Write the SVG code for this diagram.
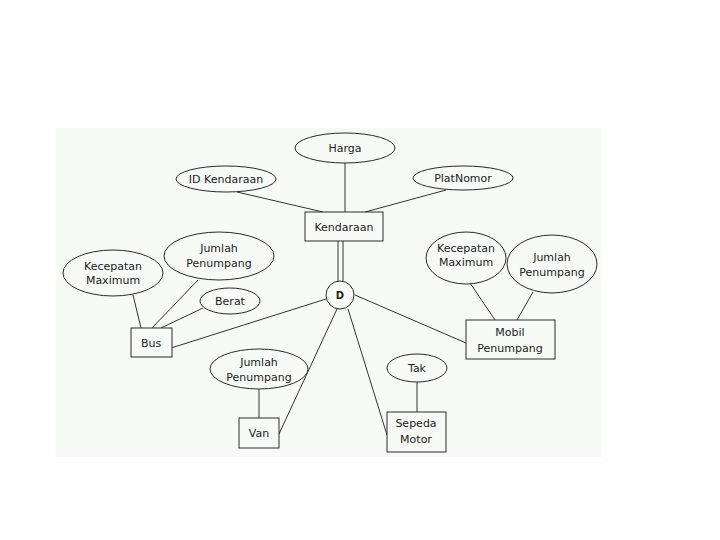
<svg xmlns="http://www.w3.org/2000/svg" width="720" height="540" viewBox="0 0 720 540">
<style>
.n{fill:none;stroke:#2a2a2a;stroke-width:1}
.s{fill:#f8faf8;stroke:#2a2a2a;stroke-width:1}
.c line{stroke:#333;stroke-width:1}
text{font-family:"DejaVu Sans","Liberation Sans",sans-serif;font-size:11px;fill:#222;text-anchor:middle}
</style>
<rect x="0" y="0" width="720" height="540" fill="#ffffff"/>
<rect x="56" y="128" width="546" height="329" fill="#f8faf8"/>
<g id="connectors" class="c">
<line x1="345" y1="163" x2="345" y2="212"/>
<line x1="237" y1="192" x2="323" y2="212"/>
<line x1="446" y1="190" x2="365" y2="212"/>
<line x1="338" y1="241" x2="338" y2="282"/>
<line x1="343" y1="241" x2="343" y2="281"/>
<line x1="133" y1="295" x2="141" y2="328"/>
<line x1="198" y1="280" x2="152" y2="328"/>
<line x1="203" y1="308" x2="161" y2="328"/>
<line x1="171" y1="348" x2="326" y2="299"/>
<line x1="259" y1="389" x2="259" y2="418"/>
<line x1="279" y1="434" x2="337" y2="309"/>
<line x1="417" y1="382" x2="417" y2="412"/>
<line x1="348" y1="309" x2="387" y2="435"/>
<line x1="355" y1="295" x2="466" y2="343"/>
<line x1="470" y1="283" x2="495" y2="320"/>
<line x1="533" y1="292" x2="517" y2="320"/>
</g>
<g id="harga"><ellipse class="s" cx="345" cy="148" rx="50" ry="15"/><text x="345" y="152">Harga</text></g>
<g id="idkendaraan"><ellipse class="s" cx="226" cy="179" rx="50" ry="13"/><text x="226" y="183">ID Kendaraan</text></g>
<g id="platnomor"><ellipse class="s" cx="463" cy="178" rx="50" ry="12"/><text x="463" y="182">PlatNomor</text></g>
<g id="kendaraan"><rect class="s" x="305" y="212" width="78" height="29"/><text x="344" y="231">Kendaraan</text></g>
<g id="d"><circle class="s" cx="340" cy="295" r="14"/><text x="340" y="299" style="font-weight:bold;font-size:10px">D</text></g>
<g id="bus-kecepatan"><ellipse class="s" cx="113" cy="273" rx="50" ry="23"/><text x="113" y="270">Kecepatan</text><text x="113" y="284">Maximum</text></g>
<g id="bus-jumlah"><ellipse class="s" cx="219" cy="256" rx="55" ry="24"/><text x="219" y="252">Jumlah</text><text x="219" y="267">Penumpang</text></g>
<g id="berat"><ellipse class="s" cx="230" cy="301" rx="30" ry="13"/><text x="230" y="305">Berat</text></g>
<g id="bus"><rect class="s" x="131" y="328" width="41" height="29"/><text x="151" y="347">Bus</text></g>
<g id="van-jumlah"><ellipse class="s" cx="259" cy="369" rx="49" ry="20"/><text x="259" y="366">Jumlah</text><text x="259" y="381">Penumpang</text></g>
<g id="van"><rect class="s" x="239" y="418" width="40" height="30"/><text x="259" y="437">Van</text></g>
<g id="tak"><ellipse class="s" cx="417" cy="368" rx="30" ry="14"/><text x="417" y="372">Tak</text></g>
<g id="sepeda"><rect class="s" x="387" y="412" width="59" height="40"/><text x="416" y="427">Sepeda</text><text x="416" y="443">Motor</text></g>
<g id="mobil-kecepatan"><ellipse class="s" cx="466" cy="258" rx="40" ry="26"/><text x="466" y="252">Kecepatan</text><text x="466" y="266">Maximum</text></g>
<g id="mobil-jumlah"><ellipse class="s" cx="552" cy="264" rx="45" ry="29"/><text x="552" y="261">Jumlah</text><text x="552" y="276">Penumpang</text></g>
<g id="mobil"><rect class="s" x="466" y="320" width="89" height="39"/><text x="510" y="336">Mobil</text><text x="510" y="352">Penumpang</text></g>
</svg>
